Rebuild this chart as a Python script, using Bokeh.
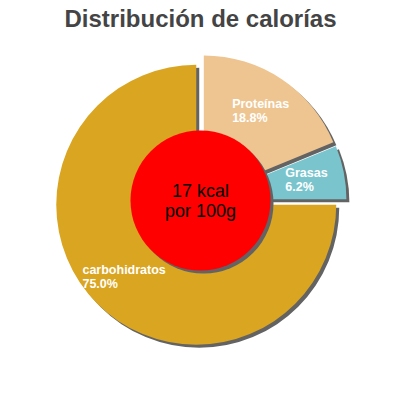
import numpy as np
from bokeh.plotting import figure
from bokeh.models import Range1d, ColumnDataSource
from bokeh.core.properties import value
from bokeh.embed import file_html
from bokeh.resources import INLINE

title = "Distribución de calorías"
categories = ["Proteínas", "Grasas", "carbohidratos"]
percents = [18.8, 6.2, 75.0]
colors = ["#EEC591", "#7AC5CD", "#DAA520"]
center_lines = ["17 kcal", "por 100g"]

CX, CY, R, HOLE, EXPLODE, SHADOW = 200.0, 200.0, 140.0, 70.0, 6.0, 3.0
LABEL_R = 108.0

frac = np.array(percents) / sum(percents)
cum = np.concatenate([[0], np.cumsum(frac)[:-1]])
start = np.pi / 2 - cum * 2 * np.pi
end = start - frac * 2 * np.pi
mid = (start + end) / 2
xs = CX + EXPLODE * np.cos(mid)
ys = CY + EXPLODE * np.sin(mid)

src = ColumnDataSource(dict(
    x=xs, y=ys, sx=xs + SHADOW, sy=ys - SHADOW, start=start, end=end, color=colors,
    lx=CX + LABEL_R * np.cos(mid), ly=CY + LABEL_R * np.sin(mid),
    label=[f"{c}\n{p:.1f}%" for c, p in zip(categories, percents)],
))

p = figure(width=384, height=384, output_backend="svg", toolbar_location=None,
           x_range=Range1d(0, 384), y_range=Range1d(16, 400), min_border=0)
p.axis.visible = False
p.grid.visible = False
p.outline_line_color = None
p.background_fill_color = "white"
p.border_fill_color = "white"

p.wedge(x="sx", y="sy", radius=R, start_angle="start", end_angle="end", direction="clock",
        fill_color="#636363", line_color=None, source=src)
p.wedge(x="x", y="y", radius=R, start_angle="start", end_angle="end", direction="clock",
        fill_color="color", line_color=None, source=src)

p.circle(x=[CX + SHADOW], y=[CY - SHADOW], radius=HOLE, fill_color="#636363", line_color=None)
p.circle(x=[CX], y=[CY], radius=HOLE, fill_color="#FF0000", line_color=None)

p.text(x="lx", y="ly", text="label", source=src, text_color="white",
       text_font=value("Liberation Sans"), text_font_style="bold", text_font_size="12.5px",
       text_align="left", anchor="center", text_line_height=1.0)

p.text(x=[CX], y=[CY], text=["\n".join(center_lines)], text_color="black",
       text_font=value("Liberation Sans"), text_font_size="18px",
       text_align="center", anchor="center", text_line_height=1.0)

p.text(x=[CX], y=[400 - 18], text=[title], text_color="#444444",
       text_font=value("Liberation Sans"), text_font_style="bold", text_font_size="24px",
       text_align="center", text_baseline="alphabetic")

open("out.html", "w").write(file_html(p, INLINE))
